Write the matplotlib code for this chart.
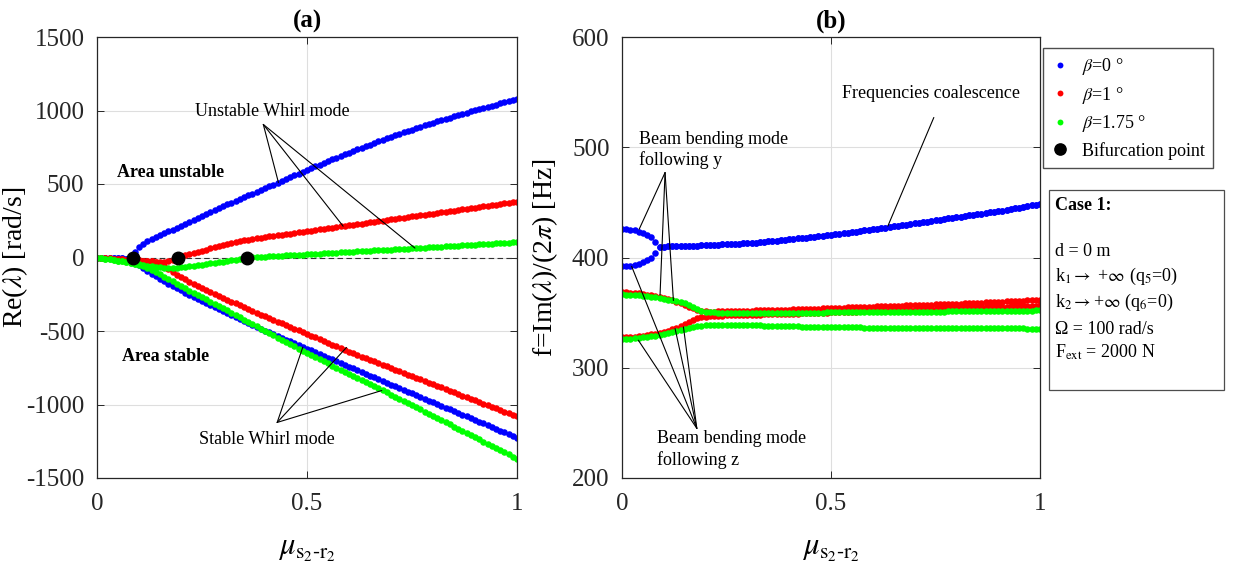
import numpy as np
import matplotlib
matplotlib.use('Agg')
import matplotlib.pyplot as plt
from matplotlib import rc

rc('font', **{'family': 'serif', 'serif': ['Liberation Serif']})
rc('mathtext', fontset='stix')
rc('axes', unicode_minus=False)

# Parametro de barrido mu_{s2-r2}
mu = np.linspace(0, 1, 101)

# (a) Parte real de los valores propios [rad/s]
blue_re_up = [0, -1, -2, -3, -4, -5, -6, -7, -8,
              35, 70, 92, 110, 125, 139, 152, 165, 177, 190, 202, 214,
              228, 242, 256, 270, 284, 297, 310, 324, 337, 350,
              362, 374, 386, 398, 410, 422, 434, 446, 458, 470,
              483, 495, 508, 520, 533, 546, 558, 571, 583, 596,
              608, 620, 631, 643, 655, 667, 679, 690, 702, 714,
              725, 736, 746, 757, 768, 779, 790, 800, 811, 822,
              832, 841, 851, 860, 870, 880, 889, 899, 908, 918,
              926, 935, 943, 952, 960, 968, 977, 985, 994, 1002,
              1010, 1017, 1025, 1032, 1040, 1048, 1055, 1063, 1070, 1078]
blue_re_lo = [0, -1, -2, -3, -4, -5, -6, -7, -8,
              -25, -50, -72, -92, -110, -127, -145, -162, -178, -194, -209, -224,
              -239, -254, -268, -283, -297, -311, -325, -339, -352, -366,
              -380, -393, -406, -420, -433, -446, -459, -472, -485, -498,
              -510, -522, -535, -547, -559, -571, -583, -596, -608, -620,
              -632, -644, -657, -669, -681, -693, -705, -718, -730, -742,
              -754, -767, -779, -791, -804, -816, -828, -840, -853, -865,
              -877, -889, -901, -913, -925, -937, -949, -961, -973, -985,
              -997, -1009, -1021, -1033, -1045, -1057, -1069, -1081, -1093, -1105,
              -1117, -1129, -1141, -1153, -1165, -1177, -1189, -1201, -1213, -1225]
red_re_up = [0, -2, -4, -6, -8, -10, -12, -14, -16, -18, -20, -22, -24, -26, -28,
             -29, -30, -27, -18, -4, 6,
             14, 22, 30, 38, 46, 54, 62, 70, 78, 86,
             93, 100, 106, 111, 116, 121, 126, 130, 135, 139,
             143, 147, 151, 155, 159, 163, 167, 171, 175, 179,
             183, 187, 191, 195, 199, 203, 207, 211, 215, 219,
             223, 227, 231, 235, 239, 243, 247, 251, 255, 259,
             263, 267, 271, 275, 279, 283, 287, 291, 295, 299,
             303, 307, 311, 315, 319, 323, 327, 332, 336, 340,
             344, 348, 352, 356, 360, 364, 368, 372, 376, 380]
red_re_lo = [0, -2, -4, -6, -8, -10, -12, -14, -16, -18, -20, -22, -24, -26, -28,
             -40, -58, -78, -98, -116, -133,
             -149, -165, -180, -194, -208, -222, -236, -249, -262, -275,
             -288, -300, -312, -325, -338, -350, -362, -375, -388, -400,
             -412, -424, -436, -448, -460, -472, -484, -496, -508, -520,
             -532, -544, -556, -568, -580, -592, -604, -616, -628, -640,
             -651, -662, -674, -685, -696, -707, -718, -730, -741, -752,
             -763, -774, -785, -796, -807, -818, -829, -840, -851, -862,
             -873, -884, -895, -906, -917, -928, -939, -950, -961, -972,
             -983, -994, -1004, -1015, -1026, -1037, -1048, -1058, -1069, -1080]
green_re_up = [0, -4, -8, -12, -17, -21, -26, -31, -36, -41,
               -46, -51, -56, -60, -64, -67, -69, -70, -70, -69,
               -67, -64, -60, -56, -52, -48, -44, -40, -36, -32,
               -28, -24, -20, -15, -10, -5, 0, 2, 3, 5,
               6, 8, 9, 11, 13, 14, 16, 17, 19, 20, 22,
               24, 25, 27, 28, 30, 32, 33, 35, 36, 38,
               40, 41, 43, 44, 46, 48, 49, 51, 52, 54,
               56, 58, 59, 61, 63, 64, 66, 68, 69, 71,
               73, 74, 76, 78, 80, 81, 83, 85, 86, 88,
               90, 92, 93, 95, 97, 98, 100, 102, 103, 105]
green_re_lo = [0, -4, -8, -12, -17, -21, -26, -31, -36, -41,
               -50, -60, -72, -86, -100, -115, -130, -145, -161, -178, -195,
               -210, -225, -240, -255, -270, -285, -300, -315, -330, -345,
               -360, -376, -391, -407, -422, -438, -453, -469, -484, -500,
               -515, -530, -545, -560, -575, -590, -605, -620, -635, -650,
               -664, -678, -693, -707, -721, -735, -749, -764, -778, -792,
               -806, -820, -834, -848, -862, -876, -890, -904, -918, -932,
               -946, -961, -975, -990, -1004, -1019, -1033, -1048, -1062, -1077,
               -1092, -1106, -1121, -1135, -1150, -1165, -1179, -1194, -1208, -1223,
               -1238, -1252, -1267, -1282, -1296, -1311, -1326, -1340, -1355, -1370]

# Puntos de bifurcacion
bif_mu = [0.085, 0.194, 0.357]
bif_re = [0, 0, 0]

# (b) Frecuencias f = Im(lambda)/(2 pi) [Hz]
blue_f_up = [425.8, 425.6, 425.2, 424.5, 423.5, 422.2, 420.5, 418.2, 414.5,
             409.6, 409.8, 410.0, 410.1, 410.2, 410.3, 410.4, 410.5, 410.6, 410.8, 410.9, 411.0,
             411.2, 411.4, 411.6, 411.8, 412.0, 412.2, 412.4, 412.6, 412.8, 413.0,
             413.3, 413.6, 413.9, 414.2, 414.6, 414.9, 415.3, 415.7, 416.1, 416.5,
             416.9, 417.3, 417.7, 418.1, 418.5, 418.9, 419.3, 419.7, 420.1, 420.5,
             421.0, 421.5, 422.0, 422.5, 423.0, 423.5, 424.0, 424.5, 425.0, 425.5,
             426.0, 426.6, 427.1, 427.7, 428.2, 428.8, 429.3, 429.9, 430.4, 431.0,
             431.5, 432.1, 432.6, 433.2, 433.7, 434.3, 434.8, 435.4, 435.9, 436.5,
             437.0, 437.6, 438.1, 438.7, 439.2, 439.8, 440.3, 440.9, 441.4, 442.0,
             442.6, 443.3, 443.9, 444.6, 445.2, 445.9, 446.5, 447.2, 447.8, 448.5]
blue_f_lo = [392.0, 392.2, 392.6, 393.3, 394.3, 395.6, 397.5, 400.0, 404.5,
             409.6, 409.8, 410.0, 410.1, 410.2, 410.3, 410.4, 410.5, 410.6, 410.8, 410.9, 411.0,
             411.2, 411.4, 411.6, 411.8, 412.0, 412.2, 412.4, 412.6, 412.8, 413.0,
             413.3, 413.6, 413.9, 414.2, 414.6, 414.9, 415.3, 415.7, 416.1, 416.5,
             416.9, 417.3, 417.7, 418.1, 418.5, 418.9, 419.3, 419.7, 420.1, 420.5,
             421.0, 421.5, 422.0, 422.5, 423.0, 423.5, 424.0, 424.5, 425.0, 425.5,
             426.0, 426.6, 427.1, 427.7, 428.2, 428.8, 429.3, 429.9, 430.4, 431.0,
             431.5, 432.1, 432.6, 433.2, 433.7, 434.3, 434.8, 435.4, 435.9, 436.5,
             437.0, 437.6, 438.1, 438.7, 439.2, 439.8, 440.3, 440.9, 441.4, 442.0,
             442.6, 443.3, 443.9, 444.6, 445.2, 445.9, 446.5, 447.2, 447.8, 448.5]
red_f_up = [368.4, 368.3, 368.1, 367.8, 367.4, 366.9, 366.3, 365.6, 364.8, 364.0,
            363.1, 362.2, 361.2, 360.0, 358.6, 357.0, 355.4, 353.8, 352.5, 351.6,
            351.1, 351.0, 351.0, 351.1, 351.2, 351.3, 351.4, 351.5, 351.6, 351.7, 351.8,
            351.9, 352.0, 352.1, 352.2, 352.3, 352.4, 352.5, 352.6, 352.7, 352.8,
            352.9, 353.1, 353.2, 353.3, 353.5, 353.6, 353.7, 353.9, 354.0, 354.1,
            354.3, 354.4, 354.5, 354.7, 354.8, 354.9, 355.1, 355.2, 355.4, 355.5,
            355.6, 355.8, 355.9, 356.0, 356.1, 356.3, 356.4, 356.5, 356.6, 356.8,
            356.9, 357.0, 357.1, 357.3, 357.4, 357.5, 357.6, 357.8, 357.9, 358.0,
            358.2, 358.4, 358.5, 358.7, 358.9, 359.1, 359.2, 359.4, 359.6, 359.8,
            359.9, 360.1, 360.3, 360.5, 360.6, 360.8, 361.0, 361.2, 361.3, 361.5]
red_f_lo = [327.6, 327.8, 328.0, 328.3, 328.7, 329.1, 329.6, 330.2, 330.9, 331.7,
            332.6, 333.6, 334.8, 336.2, 338.0, 339.8, 341.6, 343.3, 344.7, 345.7,
            346.4, 346.8, 347.1, 347.2, 347.3, 347.4, 347.5, 347.6, 347.7, 347.8, 347.9,
            348.0, 348.1, 348.2, 348.3, 348.4, 348.5, 348.6, 348.7, 348.8, 348.9,
            349.0, 349.2, 349.3, 349.4, 349.6, 349.7, 349.8, 349.9, 350.1, 350.2,
            350.3, 350.5, 350.6, 350.7, 350.9, 351.0, 351.1, 351.2, 351.4, 351.5,
            351.6, 351.8, 351.9, 352.0, 352.1, 352.3, 352.4, 352.5, 352.6, 352.8,
            352.9, 353.0, 353.1, 353.3, 353.4, 353.5, 353.6, 353.8, 353.9, 354.0,
            354.1, 354.3, 354.4, 354.5, 354.6, 354.8, 354.9, 355.0, 355.1, 355.3,
            355.4, 355.5, 355.6, 355.8, 355.9, 356.0, 356.1, 356.3, 356.4, 356.5]
green_f_up = [366.5, 366.4, 366.3, 366.1, 365.8, 365.4, 365.0, 364.5, 363.9, 363.3,
              362.6, 361.9, 361.2, 360.5, 359.7, 358.4, 356.8, 355.0, 353.3, 351.9,
              351.0, 350.5, 350.2, 350.1, 350.0, 350.0, 350.0, 350.0, 350.0, 350.0,
              350.0, 350.0, 350.0, 350.0, 350.0, 350.0, 350.0, 350.0, 350.0, 350.0,
              350.0, 350.0, 350.0, 350.0, 350.0, 350.0, 350.0, 350.1, 350.1, 350.2, 350.2,
              350.2, 350.3, 350.3, 350.3, 350.4, 350.4, 350.4, 350.5, 350.5, 350.5,
              350.5, 350.6, 350.6, 350.6, 350.7, 350.7, 350.7, 350.8, 350.8, 350.8,
              350.9, 350.9, 350.9, 351.0, 351.0, 351.0, 351.0, 351.1, 351.1, 351.1,
              351.2, 351.2, 351.2, 351.3, 351.3, 351.4, 351.4, 351.4, 351.5, 351.5,
              351.6, 351.6, 351.7, 351.7, 351.8, 351.8, 351.9, 351.9, 352.0, 352.0]
green_f_lo = [326.0, 326.2, 326.5, 326.8, 327.2, 327.6, 328.0, 328.5, 329.2, 330.0,
              330.8, 331.7, 332.6, 333.6, 334.6, 335.6, 336.5, 337.2, 337.8, 338.2,
              338.5, 338.7, 338.8, 338.8, 338.8, 338.8, 338.8, 338.7, 338.7, 338.7, 338.6,
              338.6, 338.5, 338.4, 338.3, 338.2, 338.1, 338.0, 337.9, 337.8, 337.7,
              337.6, 337.5, 337.4, 337.3, 337.2, 337.2, 337.1, 337.0, 337.0, 336.9,
              336.9, 336.8, 336.8, 336.7, 336.7, 336.6, 336.6, 336.5, 336.5, 336.5,
              336.4, 336.4, 336.4, 336.3, 336.3, 336.3, 336.2, 336.2, 336.2, 336.2,
              336.1, 336.1, 336.1, 336.1, 336.0, 336.0, 336.0, 336.0, 336.0, 336.0,
              335.9, 335.9, 335.9, 335.9, 335.9, 335.8, 335.8, 335.8, 335.8, 335.8,
              335.8, 335.7, 335.7, 335.7, 335.7, 335.7, 335.6, 335.6, 335.6, 335.6]

beta_labels = [r'$\beta$=0 °', r'$\beta$=1 °', r'$\beta$=1.75 °']
colors = ['#0000ff', '#ff0000', '#00ff00']

W, H = 1240, 585
fig = plt.figure(figsize=(W / 100, H / 100), dpi=100)

def fig_box(x0, y0, x1, y1):
    """ Convierte pixeles (origen arriba-izquierda) a fraccion de figura """
    return [x0 / W, 1 - y1 / H, (x1 - x0) / W, (y1 - y0) / H]

ax1 = fig.add_axes(fig_box(97, 37, 517, 478))
ax2 = fig.add_axes(fig_box(622, 37, 1040, 478))

mk = dict(ls='none', marker='o', ms=4.7, mew=0)

# ---------------- (a) ----------------
ax1.axhline(0, color='0.2', lw=0.8, ls=(0, (5, 3)), zorder=1)
re_sets = [(blue_re_up, blue_re_lo), (red_re_up, red_re_lo), (green_re_up, green_re_lo)]
handles = []
for (up, lo), c, lab in zip(re_sets, colors, beta_labels):
    h, = ax1.plot(mu, up, color=c, label=lab, **mk)
    ax1.plot(mu, lo, color=c, **mk)
    handles.append(h)
hb, = ax1.plot(bif_mu, bif_re, ls='none', marker='o', ms=9, color='k',
               label='Bifurcation point', zorder=5)
handles.append(hb)

ax1.set_xlim(0, 1)
ax1.set_ylim(-1500, 1500)
ax1.set_yticks([-1500, -1000, -500, 0, 500, 1000, 1500])
ax1.set_title('(a)', fontsize=18, fontweight='bold', pad=7)
ax1.set_ylabel(r'Re($\lambda$) [rad/s]', fontsize=20)
ax1.yaxis.set_label_coords(-0.16, 0.5)

line_kw = dict(arrowstyle='-', color='k', lw=0.8, shrinkA=0, shrinkB=0)
ax1.text(0.418, 995, 'Unstable Whirl mode', fontsize=13, ha='center', va='center')
for p in [(0.432, 510), (0.586, 213), (0.757, 64)]:
    ax1.annotate('', xy=p, xytext=(0.396, 905), arrowprops=line_kw)
ax1.text(0.404, -1235, 'Stable Whirl mode', fontsize=13, ha='center', va='center')
for p in [(0.49, -610), (0.594, -612), (0.678, -905)]:
    ax1.annotate('', xy=p, xytext=(0.429, -1122), arrowprops=line_kw)
ax1.text(0.048, 578, 'Area unstable', fontsize=13, fontweight='bold', va='center')
ax1.text(0.06, -673, 'Area stable', fontsize=13, fontweight='bold', va='center')

# ---------------- (b) ----------------
f_sets = [(blue_f_up, blue_f_lo), (red_f_up, red_f_lo), (green_f_up, green_f_lo)]
for (up, lo), c in zip(f_sets, colors):
    ax2.plot(mu, up, color=c, **mk)
    ax2.plot(mu, lo, color=c, **mk)

ax2.set_xlim(0, 1)
ax2.set_ylim(200, 600)
ax2.set_yticks([200, 300, 400, 500, 600])
ax2.set_title('(b)', fontsize=18, fontweight='bold', pad=7)
ax2.set_ylabel(r'f=Im($\lambda$)/(2$\pi$) [Hz]', fontsize=20)
ax2.yaxis.set_label_coords(-0.148, 0.5)

ax2.text(0.739, 549, 'Frequencies coalescence', fontsize=13, ha='center', va='center')
ax2.annotate('', xy=(0.636, 428.5), xytext=(0.746, 527), arrowprops=line_kw)
ax2.text(0.041, 497.5, 'Beam bending mode\nfollowing y', fontsize=13, ha='left',
         va='center', linespacing=1.25)
for p in [(0.041, 425.6), (0.091, 366), (0.123, 361)]:
    ax2.annotate('', xy=p, xytext=(0.103, 477), arrowprops=line_kw)
ax2.text(0.084, 226, 'Beam bending mode\nfollowing z', fontsize=13, ha='left',
         va='center', linespacing=1.25)
for p in [(0.023, 392), (0.039, 325), (0.127, 335.5), (0.147, 337)]:
    ax2.annotate('', xy=p, xytext=(0.179, 245), arrowprops=line_kw)

# Estilo comun de ejes (tipo MATLAB)
for ax in (ax1, ax2):
    ax.set_xticks([0, 0.5, 1])
    ax.set_xticklabels(['0', '0.5', '1'])
    ax.tick_params(which='major', direction='in', top=True, right=True,
                   length=5, width=0.7, labelsize=18, colors='0.15')
    ax.tick_params(axis='y', pad=9)
    ax.tick_params(axis='x', pad=11)
    ax.grid(True, color='0.87', lw=0.8)
    ax.set_axisbelow(True)
    for s in ax.spines.values():
        s.set_color('0.15')
        s.set_linewidth(0.9)
    ax.set_xlabel(r'$\mu_{\mathrm{s_2}\text{-}\mathrm{r_2}}$', fontsize=22)
    ax.xaxis.set_label_coords(0.5, -0.13)

# Leyenda fuera de los ejes
fig.legend(handles, [h.get_label() for h in handles], loc='upper left',
           bbox_to_anchor=(1043 / W, 1 - 48 / H), bbox_transform=fig.transFigure,
           fontsize=13, frameon=True, fancybox=False, edgecolor='0.3',
           framealpha=1, handlelength=1.0, handletextpad=0.7, markerscale=0.9,
           borderpad=0.45, labelspacing=0.42, borderaxespad=0)

# Recuadro con los parametros del caso
fig.add_artist(plt.Rectangle((1049 / W, 1 - 390 / H), 175 / W, 200 / H,
                             transform=fig.transFigure, fill=False,
                             ec='0.3', lw=0.9))
case_lines = [('Case 1:', 205, 'bold'),
              ('d = 0 m', 252, 'normal'),
              (r'k$_1$$\rightarrow$ +$\infty$ (q$_5$=0)', 276, 'normal'),
              (r'k$_2$$\rightarrow$+$\infty$ (q$_6$=0)', 302, 'normal'),
              ('Ω = 100 rad/s', 330, 'normal'),
              (r'F$_{\rm ext}$ = 2000 N', 352, 'normal')]
for txt, py, fw in case_lines:
    fig.text(1055 / W, 1 - py / H, txt, fontsize=13, fontweight=fw,
             ha='left', va='center')

fig.savefig('out.png', dpi=100)
